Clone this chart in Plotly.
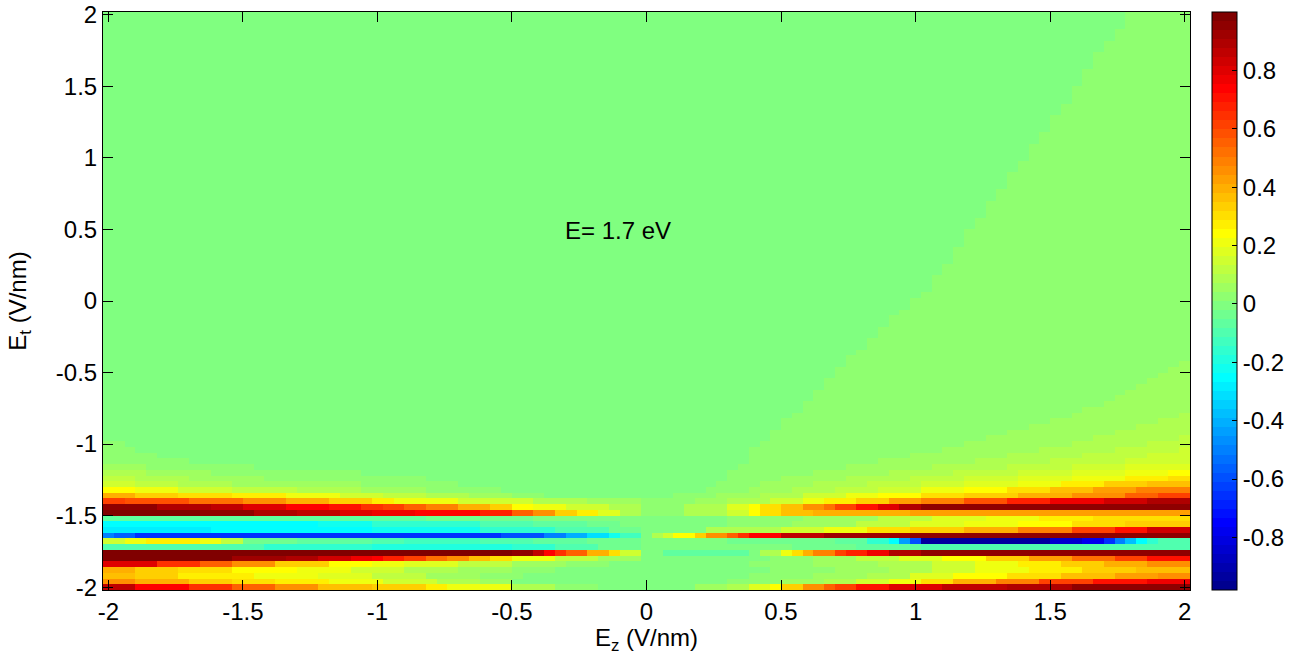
import plotly.graph_objects as go

# ---------------- data ----------------
# sample grid (V/nm)
ez = [round(-2 + 0.04 * i, 2) for i in range(101)]
et = [round(-2 + 0.04 * i, 2) for i in range(101)]

# Lower band rows: (first Ez column index, value) step knots
et_row00 = [(0,0.85),(3,0.75),(8,0.65),(12,0.55),(16,0.45),(20,0.38),(25,0.35),(30,0.27),(32,0.2),(38,0.1),(42,0.04),(46,0.0),(55,0.05),(58,0.1),(60,0.17),(62,0.25),(63,0.35),(65,0.45),(67,0.55),(68,0.62),(70,0.72),(73,0.8),(78,0.85),(84,0.9),(90,0.95)]
et_row01 = [(0,0.45),(3,0.4),(8,0.35),(12,0.3),(16,0.26),(21,0.2),(26,0.15),(31,0.1),(35,0.05),(38,0.0),(58,0.03),(63,0.06),(67,0.1),(70,0.15),(73,0.2),(76,0.3),(79,0.4),(83,0.5),(87,0.6),(92,0.7),(97,0.78)]
et_row02 = [(0,0.38),(3,0.33),(7,0.27),(14,0.22),(20,0.17),(25,0.12),(30,0.07),(35,0.03),(39,0.0),(60,0.03),(66,0.06),(71,0.1),(75,0.18),(79,0.25),(84,0.3),(89,0.36),(94,0.42),(98,0.47)]
et_row03 = [(0,0.4),(3,0.35),(7,0.3),(12,0.25),(18,0.2),(23,0.15),(28,0.1),(33,0.05),(38,0.02),(42,0.0),(62,0.03),(68,0.06),(73,0.1),(77,0.15),(81,0.2),(86,0.26),(91,0.32),(96,0.38)]
et_row04 = [(0,0.8),(5,0.65),(9,0.55),(12,0.45),(16,0.35),(21,0.25),(25,0.2),(28,0.17),(33,0.12),(38,0.07),(43,0.03),(47,0.0),(60,0.03),(66,0.06),(72,0.1),(77,0.15),(81,0.2),(85,0.27),(89,0.33),(93,0.4),(97,0.47)]
et_row05 = [(0,0.97),(12,0.93),(17,0.88),(20,0.84),(23,0.78),(25,0.74),(26,0.68),(28,0.6),(30,0.52),(32,0.45),(34,0.37),(36,0.3),(38,0.2),(42,0.12),(46,0.06),(50,0.0),(62,0.03),(66,0.07),(70,0.12),(74,0.18),(78,0.25),(82,0.33),(86,0.42),(90,0.52),(94,0.62),(97,0.72)]
et_row06 = [(0,0.98),(38,0.95),(40,0.87),(41,0.75),(42,0.65),(43,0.55),(45,0.4),(47,0.3),(48,0.15),(50,0.0),(52,-0.08),(60,0.0),(61,0.1),(63,0.2),(64,0.3),(65,0.4),(66,0.5),(68,0.6),(69,0.68),(71,0.78),(73,0.88),(76,0.96)]
et_row07 = [(0,-0.1),(15,-0.15),(25,-0.2),(38,-0.15),(42,-0.1),(46,-0.05),(50,0.0),(64,-0.03),(70,-0.07),(76,-0.1)]
et_row08 = [(0,0.15),(2,0.22),(4,0.27),(9,0.22),(11,0.12),(13,-0.04),(18,-0.07),(25,-0.1),(28,-0.13),(35,-0.1),(40,-0.07),(45,-0.03),(50,0.0),(58,-0.04),(68,-0.08),(71,-0.15),(73,-0.25),(74,-0.45),(75,-0.6),(76,-0.92),(88,-0.85),(91,-0.78),(93,-0.65),(94,-0.5),(95,-0.38),(96,-0.25),(97,-0.15),(98,-0.1)]
et_row09 = [(0,-0.5),(1,-0.55),(3,-0.65),(37,-0.6),(41,-0.5),(43,-0.4),(45,-0.3),(47,-0.22),(48,-0.12),(50,0.0),(51,0.08),(52,0.15),(53,0.25),(55,0.35),(56,0.45),(58,0.55),(59,0.65),(60,0.75),(63,0.85),(67,0.92),(75,0.96)]
et_row10 = [(0,-0.27),(10,-0.25),(25,-0.22),(35,-0.15),(42,-0.1),(47,-0.05),(50,0.0),(56,0.08),(63,0.15),(67,0.22),(71,0.3),(75,0.35),(80,0.4),(85,0.5),(90,0.6),(94,0.72),(97,0.82)]
et_row11 = [(0,-0.25),(20,-0.22),(25,-0.15),(35,-0.1),(40,-0.06),(45,-0.03),(48,0.0),(58,0.03),(64,0.07),(70,0.12),(75,0.17),(80,0.2),(85,0.25),(90,0.3),(95,0.35)]
et_row12 = [(0,-0.08),(20,-0.06),(30,-0.04),(40,0.0),(58,0.03),(65,0.07),(72,0.12),(77,0.17),(82,0.22),(87,0.26),(92,0.3)]
et_row13 = [(0,0.98),(9,0.95),(14,0.9),(18,0.85),(22,0.8),(25,0.78),(29,0.74),(35,0.66),(38,0.55),(40,0.45),(42,0.35),(44,0.27),(46,0.18),(48,0.1),(50,0.02),(54,0.08),(58,0.15),(60,0.25),(61,0.3),(63,0.37),(66,0.4),(75,0.42)]
et_row14 = [(0,0.95),(5,0.9),(10,0.85),(13,0.8),(17,0.75),(21,0.7),(24,0.65),(26,0.6),(28,0.55),(30,0.48),(33,0.4),(36,0.32),(38,0.25),(40,0.2),(43,0.14),(47,0.08),(50,0.03),(54,0.1),(58,0.18),(60,0.25),(61,0.3),(63,0.38),(65,0.45),(67,0.52),(68,0.6),(70,0.7),(72,0.8),(74,0.88),(76,0.95)]
et_row15 = [(0,0.62),(2,0.57),(8,0.52),(13,0.45),(17,0.4),(21,0.32),(25,0.26),(27,0.2),(33,0.15),(40,0.1),(45,0.06),(50,0.03),(55,0.06),(58,0.1),(62,0.15),(65,0.22),(67,0.28),(70,0.35),(73,0.42),(76,0.5),(80,0.58),(84,0.68),(88,0.76),(93,0.84),(97,0.88)]
et_row16 = [(0,0.4),(3,0.35),(7,0.3),(12,0.26),(17,0.21),(22,0.16),(26,0.12),(30,0.08),(34,0.05),(38,0.02),(41,0.0),(53,0.02),(57,0.05),(61,0.1),(65,0.15),(69,0.2),(72,0.25),(76,0.3),(80,0.35),(85,0.4),(90,0.47),(95,0.55),(98,0.62)]
et_row17 = [(0,0.24),(3,0.2),(7,0.16),(12,0.12),(18,0.08),(24,0.05),(30,0.03),(37,0.0),(56,0.02),(60,0.05),(64,0.08),(68,0.12),(72,0.16),(76,0.2),(80,0.25),(84,0.3),(88,0.36),(92,0.42),(96,0.48)]
et_row18 = [(0,0.16),(3,0.13),(7,0.1),(12,0.07),(18,0.05),(24,0.03),(33,0.0),(57,0.02),(61,0.05),(66,0.08),(71,0.11),(76,0.14),(80,0.18),(85,0.22),(89,0.27),(93,0.32),(97,0.37)]
et_row19 = [(0,0.12),(3,0.09),(8,0.06),(15,0.04),(22,0.02),(30,0.0),(58,0.02),(63,0.05),(69,0.08),(75,0.11),(80,0.14),(85,0.18),(90,0.22),(95,0.26),(99,0.29)]
et_row20 = [(0,0.09),(4,0.06),(10,0.04),(16,0.02),(24,0.0),(58,0.02),(66,0.05),(73,0.08),(79,0.11),(85,0.14),(90,0.17),(95,0.2),(99,0.23)]
et_row21 = [(0,0.06),(4,0.04),(9,0.02),(14,0.0),(59,0.02),(69,0.05),(77,0.08),(84,0.11),(90,0.14),(95,0.17)]
et_row22 = [(0,0.04),(4,0.02),(8,0.0),(60,0.02),(72,0.05),(81,0.08),(88,0.11),(95,0.14)]

# Upper region (rows from Et=-1.08 upward): first column of each faint positive level
faint_002_start = [60,60,61,62,62,63,63,64,65,65,66,66,67,67,68,68,69,69,70,71,71,72,72,73,73,74,75,75,76,77,77,77,78,78,79,79,79,80,80,80,81,81,82,82,82,83,83,84,84,84,85,85,86,86,86,87,87,88,88,88,89,89,90,90,90,91,91,91,92,92,92,93,93,94,94,95,95,95]
faint_005_start = [75,78,80,82,84,86,88,90,91,93,94,95,96,97,98,99,100]
faint_008_start = [84,87,90,92,94,96,98,100]
faint_011_start = [91,94,97,100]
faint_014_start = [97,100]
left_faint_end = [5,3,2]

annotation_text = "E= 1.7 eV"
x_ticks = [-2, -1.5, -1, -0.5, 0, 0.5, 1, 1.5, 2]
x_tick_text = ["-2", "-1.5", "-1", "-0.5", "0", "0.5", "1", "1.5", "2"]
cb_ticks = [0.8, 0.6, 0.4, 0.2, 0, -0.2, -0.4, -0.6, -0.8]
cb_tick_text = ["0.8", "0.6", "0.4", "0.2", "0", "-0.2", "-0.4", "-0.6", "-0.8"]
c_min, c_max = -0.98, 1.0

# ---------------- build matrix ----------------
bottom_rows = [et_row00, et_row01, et_row02, et_row03, et_row04, et_row05, et_row06,
               et_row07, et_row08, et_row09, et_row10, et_row11, et_row12, et_row13,
               et_row14, et_row15, et_row16, et_row17, et_row18, et_row19, et_row20,
               et_row21, et_row22]
N = len(ez)
z = [[0.0] * N for _ in range(len(et))]
for r, knots in enumerate(bottom_rows):
    for c in range(N):
        v = 0.0
        for c0, val in knots:
            if c >= c0:
                v = val
        z[r][c] = v

base = len(bottom_rows)
for k in range(len(et) - base):
    r = base + k
    for c in range(N):
        v = 0.0
        if c >= faint_002_start[k]:
            v = 0.02
        if k < len(faint_005_start) and c >= faint_005_start[k]:
            v = 0.05
        if k < len(faint_008_start) and c >= faint_008_start[k]:
            v = 0.08
        if k < len(faint_011_start) and c >= faint_011_start[k]:
            v = 0.11
        if k < len(faint_014_start) and c >= faint_014_start[k]:
            v = 0.14
        if k < len(left_faint_end) and c < left_faint_end[k]:
            v = 0.02
        z[r][c] = v


# MATLAB-style jet(64)
def jet(m=64):
    n = -(-m // 4)
    u = [i / n for i in range(1, n + 1)] + [1.0] * (n - 1) + [i / n for i in range(n, 0, -1)]
    g0 = -(-n // 2) - (1 if m % 4 == 1 else 0)
    g = [g0 + i for i in range(1, len(u) + 1)]
    R = [0.0] * m; G = [0.0] * m; B = [0.0] * m
    for k, uk in enumerate(u):
        if 1 <= g[k] + n <= m:
            R[g[k] + n - 1] = uk
        if 1 <= g[k] <= m:
            G[g[k] - 1] = uk
        if 1 <= g[k] - n <= m:
            B[g[k] - n - 1] = uk
    return ["rgb(%d,%d,%d)" % (round(255 * R[i]), round(255 * G[i]), round(255 * B[i])) for i in range(m)]


cols = jet(64)
colorscale = []
for i, col in enumerate(cols):
    colorscale.append([i / 64, col])
    colorscale.append([(i + 1) / 64, col])

FONT = "Liberation Sans, Arial, Helvetica, sans-serif"
FS = 24

fig = go.Figure(go.Heatmap(
    x=ez, y=et, z=z, zmin=c_min, zmax=c_max, colorscale=colorscale, zsmooth=False,
    colorbar=dict(
        x=1.0202, xanchor="left", xpad=0, ypad=0, y=0.5, yanchor="middle", len=1.0, lenmode="fraction",
        thickness=25, thicknessmode="pixels", outlinewidth=1, outlinecolor="black",
        tickvals=cb_ticks, ticktext=cb_tick_text, ticks="inside", ticklen=5, tickcolor="black",
        tickfont=dict(family=FONT, size=FS, color="black"),
    ),
))

axis_common = dict(
    tickvals=x_ticks, ticktext=x_tick_text, ticks="inside", ticklen=10, tickcolor="black",
    showline=True, linecolor="black", linewidth=1, mirror="ticks", showgrid=False, zeroline=False,
    automargin=False, tickfont=dict(family=FONT, size=FS, color="black"),
)
fig.update_xaxes(range=[-2.02, 2.02], title=dict(text="E<sub>z</sub> (V/nm)", font=dict(family=FONT, size=FS, color="black"), standoff=6), **axis_common)
fig.update_yaxes(range=[-2.02, 2.02], title=dict(text="E<sub>t</sub> (V/nm)", font=dict(family=FONT, size=FS, color="black"), standoff=22), **axis_common)

fig.add_annotation(x=-0.31, y=0.49, xref="x", yref="y", text=annotation_text, showarrow=False,
                   xanchor="left", yanchor="middle", font=dict(family=FONT, size=FS, color="black"))

fig.update_layout(
    width=1291, height=655, margin=dict(l=103, r=101, t=12, b=65, autoexpand=False),
    paper_bgcolor="white", plot_bgcolor="white",
)

fig.write_html("out.html")
